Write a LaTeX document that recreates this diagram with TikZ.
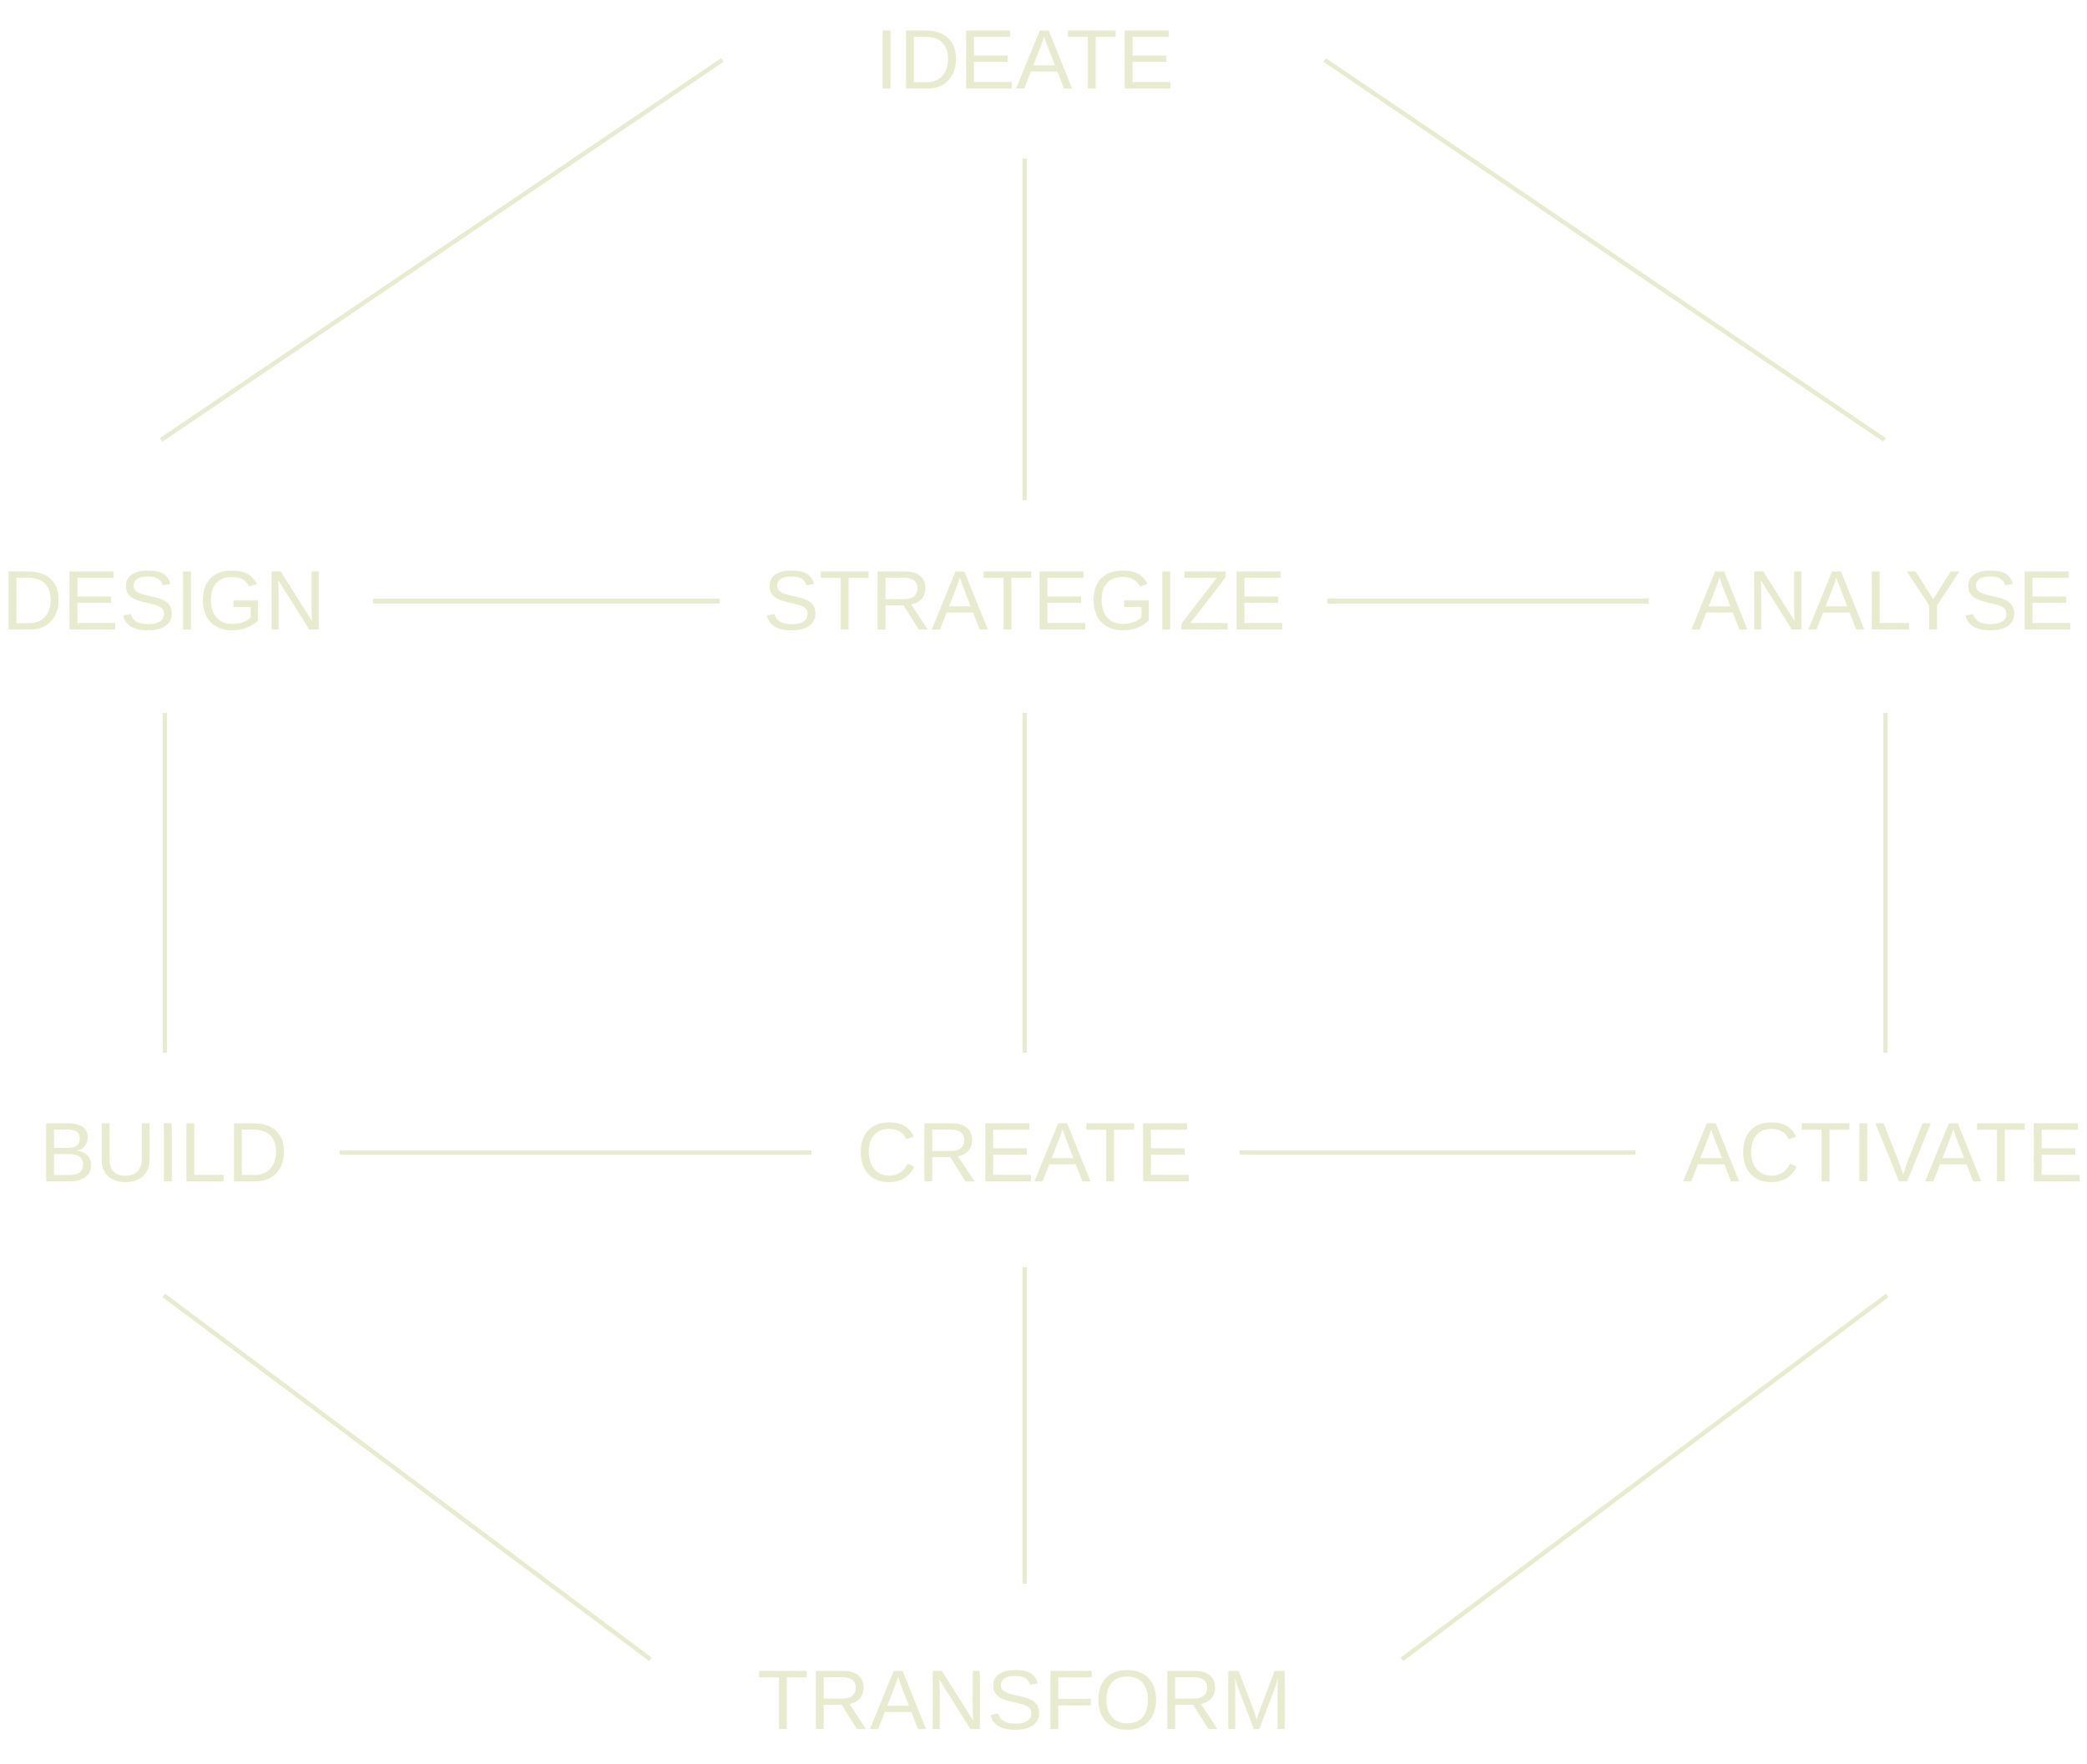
\documentclass[tikz,border=0pt]{standalone}
\usepackage{fontspec}
\setmainfont{Liberation Sans}
\definecolor{pale}{HTML}{E8EBCD}
\begin{document}
\begin{tikzpicture}[x=0.01cm,y=-0.01cm,
  lbl/.style={text=pale,font=\fontsize{18}{20}\selectfont,inner sep=0pt},
  conn/.style={draw=pale,line width=0.9pt}]
\useasboundingbox (0,0) rectangle (1566,1323);
\node[lbl] (ideate) at (769,45) {IDEATE};
\node[lbl] (design) at (123,451) {DESIGN};
\node[lbl] (strat) at (769,451) {STRATEGIZE};
\node[lbl] (analyse) at (1413,451) {ANALYSE};
\node[lbl] (build) at (123,865) {BUILD};
\node[lbl] (create) at (769,865) {CREATE};
\node[lbl] (activate) at (1413,865) {ACTIVATE};
\node[lbl] (transform) at (769,1276) {TRANSFORM};
\foreach \n/\a/\b in {1/{542,45}/{121,330},2/{994,45}/{1414,330},3/{769,119}/{769,375},
 4/{280,451}/{540,451},5/{996,451}/{1237,451},6/{124,535}/{124,790},7/{769,535}/{769,790},
 8/{1415,535}/{1415,790},9/{255,865}/{609,865},10/{930,865}/{1227,865},
 11/{123,972}/{488,1245},12/{769,951}/{769,1188},13/{1416,972}/{1052,1245}}{
  \coordinate (s\n) at (\a); \coordinate (e\n) at (\b);
  \draw[conn] (s\n) -- (e\n);
}
\end{tikzpicture}
\end{document}
